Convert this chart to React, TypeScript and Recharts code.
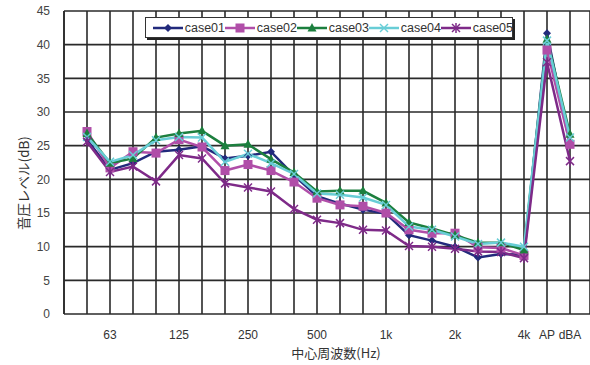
import React from "react";
import { LineChart, Line, XAxis, YAxis, CartesianGrid, Label } from "recharts";

// 1/3 octave bands + AP + dBA
const bands = [
  "50", "63", "80", "100", "125", "160", "200", "250", "315", "400", "500",
  "630", "800", "1k", "1.25k", "1.6k", "2k", "2.5k", "3.15k", "4k", "AP", "dBA",
];
const bandLabels = [
  "", "63", "", "", "125", "", "", "250", "", "", "500",
  "", "", "1k", "", "", "2k", "", "", "4k", "AP", "dBA",
];

const case01 = [25.9, 21.4, 22.4, 24.1, 24.4, 24.9, 23.1, 23.5, 24.1, 20.6, 17.5, 16.4, 15.5, 14.9, 11.7, 10.9, 10.0, 8.4, 8.9, 8.8, 41.7, 25.1];
const case02 = [27.1, 21.7, 24.1, 23.9, 25.9, 24.8, 21.3, 22.2, 21.3, 19.6, 17.2, 16.2, 16.0, 15.0, 12.5, 12.0, 12.0, 9.9, 9.8, 8.7, 39.2, 25.2];
const case03 = [26.8, 22.4, 23.1, 26.2, 26.8, 27.2, 25.0, 25.2, 23.0, 21.0, 18.2, 18.3, 18.3, 16.5, 13.6, 12.7, 11.7, 10.6, 10.6, 9.5, 40.8, 26.7];
const case04 = [26.3, 22.6, 23.6, 25.8, 26.3, 26.2, 22.6, 23.8, 22.4, 20.8, 17.9, 17.7, 17.3, 16.2, 13.0, 12.5, 11.5, 10.4, 10.6, 10.0, 40.6, 26.2];
const case05 = [25.6, 21.1, 21.9, 19.7, 23.6, 23.1, 19.4, 18.8, 18.2, 15.6, 14.0, 13.5, 12.5, 12.4, 10.1, 10.0, 9.7, 9.3, 9.2, 8.3, 37.4, 22.7];

const yTicks = [0, 5, 10, 15, 20, 25, 30, 35, 40, 45];

const data = bands.map((b, i) => ({
  band: b,
  case01: case01[i],
  case02: case02[i],
  case03: case03[i],
  case04: case04[i],
  case05: case05[i],
}));

const COLORS = {
  case01: "#222a7c",
  case02: "#b04ea8",
  case03: "#1c7f3e",
  case04: "#68cdd6",
  case05: "#7e2a88",
};

type Shape = "diamond" | "square" | "triangle" | "cross" | "star";

function Marker({ cx, cy, shape, color }: { cx: number; cy: number; shape: Shape; color: string }) {
  if (shape === "diamond")
    return <polygon points={`${cx},${cy - 4} ${cx + 4},${cy} ${cx},${cy + 4} ${cx - 4},${cy}`} fill={color} />;
  if (shape === "square") return <rect x={cx - 4.5} y={cy - 4.5} width={9} height={9} fill={color} />;
  if (shape === "triangle")
    return <polygon points={`${cx},${cy - 5} ${cx + 4.5},${cy + 3.5} ${cx - 4.5},${cy + 3.5}`} fill={color} />;
  if (shape === "cross")
    return (
      <g stroke={color} strokeWidth={1.5}>
        <line x1={cx - 4} y1={cy - 4} x2={cx + 4} y2={cy + 4} />
        <line x1={cx - 4} y1={cy + 4} x2={cx + 4} y2={cy - 4} />
      </g>
    );
  return (
    <g stroke={color} strokeWidth={1.5}>
      <line x1={cx - 4} y1={cy - 4} x2={cx + 4} y2={cy + 4} />
      <line x1={cx - 4} y1={cy + 4} x2={cx + 4} y2={cy - 4} />
      <line x1={cx} y1={cy - 5} x2={cx} y2={cy + 5} />
    </g>
  );
}

const series: { key: keyof typeof COLORS; shape: Shape }[] = [
  { key: "case01", shape: "diamond" },
  { key: "case02", shape: "square" },
  { key: "case03", shape: "triangle" },
  { key: "case04", shape: "cross" },
  { key: "case05", shape: "star" },
];

function LegendBox() {
  return (
    <div
      style={{
        position: "absolute",
        left: 145,
        top: 17,
        width: 368,
        height: 21,
        background: "#fff",
        border: "1px solid #333",
        boxShadow: "2px 2px 0 #222",
        display: "flex",
        alignItems: "center",
        paddingLeft: 7,
        boxSizing: "border-box",
        fontFamily: "'Liberation Sans', Arial, sans-serif",
        fontSize: 12.5,
        color: "#333",
      }}
    >
      {series.map((s) => (
        <div key={s.key} style={{ display: "flex", alignItems: "center", width: 72 }}>
          <svg width={30} height={12}>
            <line x1={0} y1={6} x2={30} y2={6} stroke={COLORS[s.key]} strokeWidth={2.5} />
            <Marker cx={15} cy={6} shape={s.shape} color={COLORS[s.key]} />
          </svg>
          <span style={{ marginLeft: 2 }}>{s.key}</span>
        </div>
      ))}
    </div>
  );
}

export default function App() {
  return (
    <div style={{ position: "relative", width: 590, height: 365, background: "#fff" }}>
      <style>{`body{margin:0}`}</style>
      <LineChart width={590} height={365} data={data} margin={{ top: 11, right: 0, left: 0, bottom: 0 }}>
        <CartesianGrid stroke="#2a2a2a" strokeWidth={1.6} />
        <XAxis
          dataKey="band"
          interval={0}
          height={51}
          padding={{ left: 23, right: 20 }}
          tickLine={false}
          axisLine={false}
          tickMargin={10}
          tickFormatter={(_v, i) => bandLabels[i]}
          tick={{ fontSize: 12, fill: "#333", fontFamily: "'Liberation Sans', Arial, sans-serif" }}
        >
          <Label
            content={() => (
              <text
                x={336}
                y={358}
                textAnchor="middle"
                fontSize={13}
                fill="#333"
                fontFamily="'Noto Sans CJK JP', sans-serif"
              >
                中心周波数(Hz)
              </text>
            )}
          />
        </XAxis>
        <YAxis
          domain={[0, 45]}
          ticks={yTicks}
          interval={0}
          width={64}
          tickLine={false}
          axisLine={{ stroke: "#2a2a2a", strokeWidth: 1.6 }}
          tickMargin={8}
          tick={{ fontSize: 12, fill: "#444", fontFamily: "'Liberation Sans', Arial, sans-serif" }}
        >
          <Label
            content={() => (
              <text
                x={29}
                y={183}
                transform="rotate(-90 29 183)"
                textAnchor="middle"
                fontSize={13.5}
                fill="#333"
                fontFamily="'Noto Sans CJK JP', sans-serif"
              >
                音圧レベル(dB)
              </text>
            )}
          />
        </YAxis>
        {series.map((s) => (
          <Line
            key={s.key}
            dataKey={s.key}
            type="linear"
            stroke={COLORS[s.key]}
            strokeWidth={2.5}
            isAnimationActive={false}
            dot={(p: any) => (
              <Marker key={`${s.key}-${p.index}`} cx={p.cx} cy={p.cy} shape={s.shape} color={COLORS[s.key]} />
            )}
            activeDot={false}
          />
        ))}
      </LineChart>
      <LegendBox />
    </div>
  );
}
